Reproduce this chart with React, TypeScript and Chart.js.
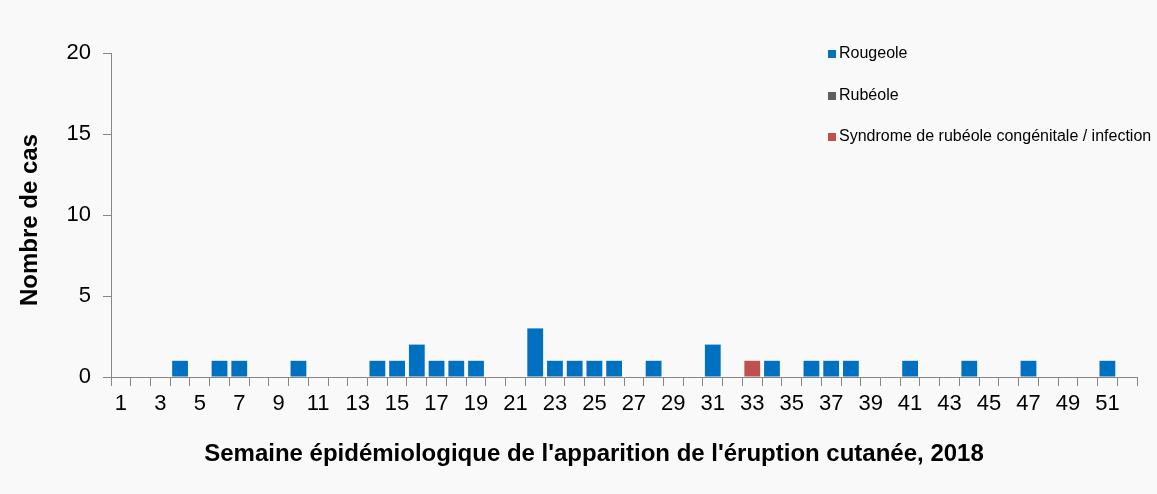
import React, { useEffect, useRef } from "react";
import { Chart, registerables } from "chart.js";

Chart.register(...registerables);

const weeks = [
  "1", "2", "3", "4", "5", "6", "7", "8", "9", "10",
  "11", "12", "13", "14", "15", "16", "17", "18", "19", "20",
  "21", "22", "23", "24", "25", "26", "27", "28", "29", "30",
  "31", "32", "33", "34", "35", "36", "37", "38", "39", "40",
  "41", "42", "43", "44", "45", "46", "47", "48", "49", "50",
  "51", "52",
];

const rougeole = [
  0, 0, 0, 1, 0, 1, 1, 0, 0, 1,
  0, 0, 0, 1, 1, 2, 1, 1, 1, 0,
  0, 3, 1, 1, 1, 1, 0, 1, 0, 0,
  2, 0, 0, 1, 0, 1, 1, 1, 0, 0,
  1, 0, 0, 1, 0, 0, 1, 0, 0, 0,
  1, 0,
];

const rubeole = [
  0, 0, 0, 0, 0, 0, 0, 0, 0, 0,
  0, 0, 0, 0, 0, 0, 0, 0, 0, 0,
  0, 0, 0, 0, 0, 0, 0, 0, 0, 0,
  0, 0, 0, 0, 0, 0, 0, 0, 0, 0,
  0, 0, 0, 0, 0, 0, 0, 0, 0, 0,
  0, 0,
];

const syndrome = [
  0, 0, 0, 0, 0, 0, 0, 0, 0, 0,
  0, 0, 0, 0, 0, 0, 0, 0, 0, 0,
  0, 0, 0, 0, 0, 0, 0, 0, 0, 0,
  0, 0, 1, 0, 0, 0, 0, 0, 0, 0,
  0, 0, 0, 0, 0, 0, 0, 0, 0, 0,
  0, 0,
];

const seriesNames = ["Rougeole", "Rubéole", "Syndrome de rubéole congénitale / infection"];
const seriesColors = ["#0070C0", "#5F5F5F", "#C0504D"];
const yTitle = "Nombre de cas";
const xTitle = "Semaine épidémiologique de l'apparition de l'éruption cutanée, 2018";

const FONT = "'Liberation Sans', Arial, sans-serif";
const BG = "#F9F9F9";

const decorPlugin = {
  id: "decor",
  beforeDraw(chart: any) {
    const ctx = chart.ctx;
    ctx.save();
    ctx.fillStyle = BG;
    ctx.fillRect(0, 0, chart.width, chart.height);
    ctx.restore();
  },
  afterDraw(chart: any) {
    const ctx = chart.ctx;
    const area = chart.chartArea;
    ctx.save();
    ctx.fillStyle = "#000";
    ctx.font = `bold 24px ${FONT}`;
    ctx.textAlign = "center";
    ctx.textBaseline = "middle";
    ctx.translate(30, (area.top + area.bottom) / 2 + 5);
    ctx.rotate(-Math.PI / 2);
    ctx.fillText(yTitle, 0, 0);
    ctx.restore();

    ctx.save();
    ctx.fillStyle = "#000";
    ctx.font = `bold 24px ${FONT}`;
    ctx.textAlign = "center";
    ctx.textBaseline = "middle";
    ctx.fillText(xTitle, 594, 454);
    ctx.restore();

    ctx.save();
    ctx.font = `16px ${FONT}`;
    ctx.textBaseline = "middle";
    ctx.textAlign = "left";
    const ys = [54, 96, 137];
    seriesNames.forEach((name, i) => {
      ctx.fillStyle = seriesColors[i];
      ctx.fillRect(828, ys[i] - 4, 8, 8);
      ctx.fillStyle = "#000";
      ctx.fillText(name, 839, ys[i]);
    });
    ctx.restore();
  },
};

export default function App() {
  const ref = useRef<HTMLCanvasElement | null>(null);

  useEffect(() => {
    document.body.style.margin = "0";
    document.body.style.background = BG;
    const canvas = ref.current;
    if (!canvas) return;
    const datasets = [rougeole, rubeole, syndrome].map((d, i) => ({
      label: seriesNames[i],
      data: d,
      backgroundColor: seriesColors[i],
      borderWidth: 0,
      barPercentage: 0.8,
      categoryPercentage: 1.0,
    }));
    const chart = new Chart(canvas, {
      type: "bar",
      data: { labels: weeks, datasets },
      plugins: [decorPlugin],
      options: {
        animation: false,
        responsive: false,
        maintainAspectRatio: false,
        layout: { padding: { left: 0, top: 53, right: 20, bottom: 0 } },
        plugins: {
          legend: { display: false },
          tooltip: { enabled: false },
          title: { display: false },
        },
        scales: {
          x: {
            stacked: true,
            offset: true,
            afterFit(scale: any) {
              scale.height = 117;
            },
            grid: {
              display: true,
              drawOnChartArea: false,
              drawTicks: true,
              tickLength: 9,
              color: "#868686",
              offset: true,
            },
            border: { display: true, color: "#868686", width: 1 },
            ticks: {
              autoSkip: false,
              maxRotation: 0,
              minRotation: 0,
              padding: 5,
              color: "#000",
              font: { family: FONT, size: 22 },
              callback: (_v: any, i: number) => (i % 2 === 0 ? weeks[i] : ""),
            },
          },
          y: {
            stacked: true,
            min: 0,
            max: 20,
            afterFit(scale: any) {
              scale.width = 111;
            },
            grid: {
              display: true,
              drawOnChartArea: false,
              drawTicks: true,
              tickLength: 8,
              color: "#868686",
            },
            border: { display: true, color: "#868686", width: 1 },
            ticks: {
              stepSize: 5,
              padding: 12,
              color: "#000",
              font: { family: FONT, size: 22 },
            },
          },
        },
      },
    });
    return () => chart.destroy();
  }, []);

  return (
    <div style={{ position: "absolute", left: 0, top: 0, width: 1157, height: 494, background: BG }}>
      <canvas ref={ref} width={1157} height={494} style={{ display: "block", width: 1157, height: 494 }} />
    </div>
  );
}
